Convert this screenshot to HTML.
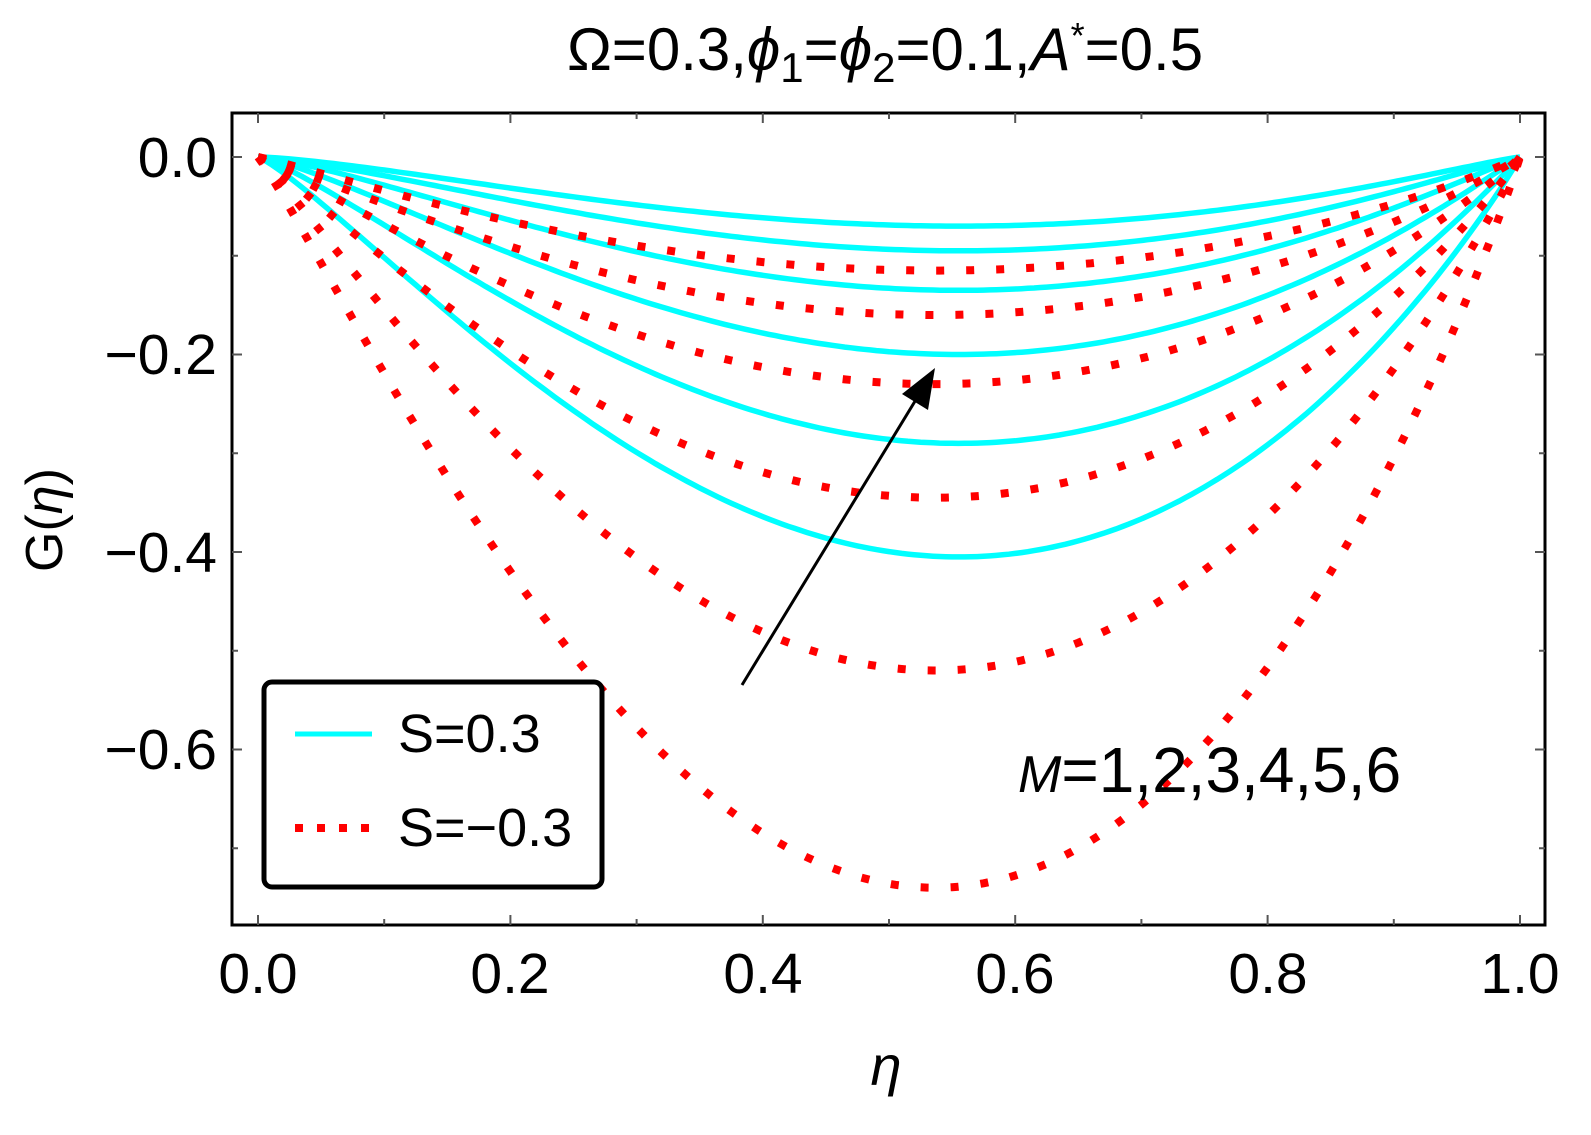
<!DOCTYPE html>
<html><head><meta charset="utf-8"><style>
body{margin:0;background:#fff;}
svg{display:block;font-family:"Liberation Sans",sans-serif;}
</style></head><body>
<svg id="s" width="1591" height="1135" xmlns="http://www.w3.org/2000/svg">
<text x="885" y="70" font-size="60" text-anchor="middle">Ω=0.3,<tspan font-style="italic">ϕ</tspan><tspan font-size="42" dy="12">1</tspan><tspan dy="-12">=</tspan><tspan font-style="italic">ϕ</tspan><tspan font-size="42" dy="12">2</tspan><tspan dy="-12">=0.1,</tspan><tspan font-style="italic">A</tspan><tspan font-size="36" dy="-22">*</tspan><tspan dy="22">=0.5</tspan></text>
<g id="curves"></g>
<rect x="232" y="113" width="1313" height="812" fill="none" stroke="#000" stroke-width="3"/>
<g id="ticks" stroke="#555" stroke-width="2"></g>
<g font-size="57" text-anchor="end">
<text x="217" y="177">0.0</text>
<text x="217" y="374">−0.2</text>
<text x="217" y="572">−0.4</text>
<text x="217" y="769">−0.6</text>
</g>
<g font-size="57" text-anchor="middle">
<text x="258" y="993">0.0</text>
<text x="510" y="993">0.2</text>
<text x="763" y="993">0.4</text>
<text x="1015" y="993">0.6</text>
<text x="1268" y="993">0.8</text>
<text x="1520" y="993">1.0</text>
</g>
<text x="886" y="1085" font-size="56" font-style="italic" text-anchor="middle">η</text>
<text transform="translate(62,520) rotate(-90)" font-size="52" text-anchor="middle">G(<tspan font-style="italic">η</tspan>)</text>
<line x1="742" y1="685" x2="920" y2="393" stroke="#000" stroke-width="3"/>
<polygon points="935,368 928,410 902,394" fill="#000"/>
<text x="1018" y="792" font-size="64"><tspan font-style="italic" font-size="52">M</tspan>=1,2,3,4,5,6</text>
<rect x="264" y="682" width="338" height="205" rx="8" fill="#fff" stroke="#000" stroke-width="5"/>
<line x1="295" y1="734" x2="372" y2="734" stroke="#00ffff" stroke-width="5"/>
<text x="398" y="752" font-size="54">S=0.3</text>
<line x1="295" y1="828" x2="375" y2="828" stroke="#ff0000" stroke-width="8" stroke-dasharray="8 14"/>
<text x="398" y="846" font-size="54">S=−0.3</text>
</svg>
<script>
var X=function(t){return 258+t*1262;},Y=function(g){return 157-g*987.5;};
function path(A,a,b){var mx=a/(a+b),norm=Math.pow(mx,a)*Math.pow(1-mx,b),d="";
for(var i=0;i<=200;i++){var t=i/200;var g=-A*Math.pow(t,a)*Math.pow(1-t,b)/norm;d+=(i?"L":"M")+X(t).toFixed(1)+","+Y(g).toFixed(1);}return d;}
var c=document.getElementById("curves"),h="";
[[0.07,1.45],[0.095,1.4],[0.135,1.35],[0.2,1.3],[0.29,1.25],[0.405,1.2]].forEach(function(p){h+='<path d="'+path(p[0],p[1],p[1]*0.8)+'" fill="none" stroke="#00ffff" stroke-width="5.5"/>';});
[0.115,0.16,0.23,0.345,0.52,0.74].forEach(function(A){h+='<path d="'+path(A,1.1,0.95)+'" fill="none" stroke="#ff0000" stroke-width="8" stroke-dasharray="8 22"/>';});
c.innerHTML=h;
var tk="";
for(var i=0;i<=10;i++){var x=X(i/10),L=i%2?6:10;tk+='<line x1="'+x+'" y1="113" x2="'+x+'" y2="'+(113+L)+'"/><line x1="'+x+'" y1="925" x2="'+x+'" y2="'+(925-L)+'"/>';}
for(var j=0;j<=7;j++){var y=Y(-j*0.1),L=j%2?6:10;tk+='<line x1="232" y1="'+y+'" x2="'+(232+L)+'" y2="'+y+'"/><line x1="1545" y1="'+y+'" x2="'+(1545-L)+'" y2="'+y+'"/>';}
document.getElementById("ticks").innerHTML=tk;
</script>
</body></html>
